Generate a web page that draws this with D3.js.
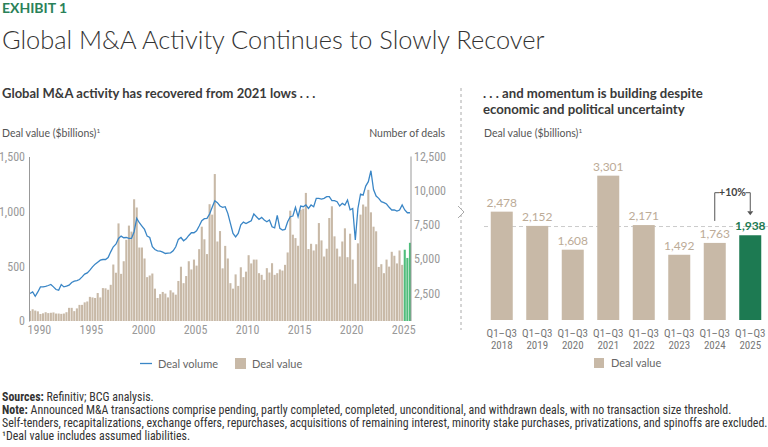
<!DOCTYPE html>
<html>
<head>
<meta charset="utf-8">
<script src="https://cdn.jsdelivr.net/npm/d3@7"></script>
<style>
  body { margin: 0; background: #fff; }
  svg text { font-family: Lato, "Open Sans", sans-serif; }
  svg text.narrow { font-family: "Liberation Sans Narrow", "Roboto Condensed", sans-serif; }
</style>
</head>
<body>
<svg id="chart" width="768" height="447"></svg>
<script>
// left panel: quarterly deal value ($B), 1989 Q1 .. 2025 Q3
var firstYear = 1989;
var dealValue = [
  92, 107, 95, 88,      64, 70, 80, 72,       75, 78, 68, 68,       65, 68, 80, 120,
  120, 90, 115, 147,    147, 170, 178, 220,   215, 210, 255, 215,   300, 298, 285, 330,
  515, 440, 890, 430,   545, 740, 870, 815,   1110, 1035, 670, 670, 570, 400, 415, 433,
  295, 210, 245, 265,   250, 215, 280, 260,   240, 365, 495, 345,   410, 545, 470, 560,
  505, 655, 860, 745,   610, 1065, 970, 1340, 725, 820, 480, 685,   570, 345, 295, 425,
  320, 490, 400, 450,   600, 525, 560, 560,   436, 421, 375, 482,   442, 527, 421, 436,
  470, 460, 512, 625,   1006, 787, 756, 686,  1015, 1024, 1168, 656, 704, 643, 700, 893,
  735, 588, 659, 939,   1046, 772, 660, 588,  725, 845, 582, 796,   560, 340, 708, 970,
  1062, 1043, 1196, 991, 860, 818, 493, 518, 436, 560, 496, 631,   595, 525, 643, 512,
  650, 575, 713
];
// number of deals, same quarters
var dealVolume = [
  2480, 2600, 2285, 2600,  2970, 2970, 3000, 3070,  3145, 2970, 2775, 2725,  3145, 2970, 3020, 3095,
  3290, 3385, 3435, 3510,  3700, 3900, 3995, 4190,  4435, 4630, 4775, 4920,  4970, 4970, 5115, 5530,
  5900, 6090, 6510, 6680,  6560, 6580, 6510, 6510,  7000, 7980, 7660, 7415,  7170, 6680, 6580, 5900,
  5700, 5605, 5580, 5510,  5410, 5435, 5460, 5605,  5900, 6440, 6580, 6340,  6485, 6730, 6925, 6925,
  7070, 7415, 7805, 7955,  7980, 8295, 8785, 9270,  9125, 8880, 8785, 8830,  8345, 7610, 6880, 6630,
  6880, 7500, 7700, 7600,  7700, 7800, 8300, 8100,  7900, 8050, 7855, 7730,  7855, 7365, 7290, 8200,
  7245, 7120, 7170, 7730,  8100, 8150, 8785, 8100,  8880, 8830, 8955, 8710,  8955, 8830, 9440, 9440,
  9390, 9440, 9560, 9560,  9270, 9270, 9195, 8880,  9075, 8955, 9320, 8600,  8700, 6400, 8700, 9750,
  9680, 10340, 10660, 11460, 10090, 9605, 9440, 9195, 9125, 9025, 8785, 8590, 8590, 8515, 8590, 8955,
  8590, 8390, 8390
];
var highlightYear = 2025;
var yearTicks = [1990, 1995, 2000, 2005, 2010, 2015, 2020, 2025];
var valueTicks = [0, 500, 1000, 1500];
var volumeTicks = [2500, 5000, 7500, 10000, 12500];

// right panel: Q1-Q3 deal value ($B)
var ytdYears = ['2018', '2019', '2020', '2021', '2022', '2023', '2024', '2025'];
var ytdValues = [2478, 2152, 1608, 3301, 2171, 1492, 1763, 1938];

var tan = '#c8b9a7', blue = '#3a86c6', green = '#1d7a52', lightGreen = '#4fbd7b';

var svg = d3.select('#chart');

// headings
svg.append('text').attr('x', 2).attr('y', 13)
  .attr('font-size', 14).attr('font-weight', 700).attr('fill', '#2a8159')
  .text('EXHIBIT 1');
svg.append('text').attr('x', 2).attr('y', 49)
  .attr('font-size', 25.4).attr('font-weight', 300).attr('fill', '#333')
  .text('Global M&A Activity Continues to Slowly Recover');
svg.append('text').attr('x', 2).attr('y', 98)
  .attr('font-size', 13).attr('font-weight', 700).attr('fill', '#3a3a3a')
  .text('Global M&A activity has recovered from 2021 lows . . .');
svg.append('text').attr('x', 483).attr('y', 98)
  .attr('font-size', 13.2).attr('font-weight', 700).attr('fill', '#3a3a3a')
  .text('. . . and momentum is building despite');
svg.append('text').attr('x', 483).attr('y', 114)
  .attr('font-size', 13.2).attr('font-weight', 700).attr('fill', '#3a3a3a')
  .text('economic and political uncertainty');

function axisTitle(x, y, txt, anchor) {
  var t = svg.append('text').attr('x', x).attr('y', y)
    .attr('font-size', 10.5).attr('fill', '#555').attr('text-anchor', anchor || 'start');
  t.append('tspan').text(txt);
  return t;
}
axisTitle(2, 137, 'Deal value ($billions)').append('tspan').attr('dy', -4).attr('font-size', 6.5).text('1');
axisTitle(445, 137, 'Number of deals', 'end');
axisTitle(484, 137, 'Deal value ($billions)').append('tspan').attr('dy', -4).attr('font-size', 6.5).text('1');

/************************ left panel ************************/
var x = d3.scaleBand().domain(d3.range(dealValue.length)).range([29, 411]).paddingInner(0.2);
var yL = d3.scaleLinear().domain([0, 1500]).range([321, 156.5]);
var yR = d3.scaleLinear().domain([0, 12500]).range([327.5, 156.5]);

function yearOf(i) { return firstYear + Math.floor(i / 4); }

svg.append('g').selectAll('rect').data(dealValue).join('rect')
  .attr('x', function(d, i) { return x(i); })
  .attr('width', x.bandwidth())
  .attr('y', function(d) { return yL(d); })
  .attr('height', function(d) { return yL(0) - yL(d); })
  .attr('fill', function(d, i) { return yearOf(i) === highlightYear ? lightGreen : tan; });

var line = d3.line()
  .x(function(d, i) { return x(i) + x.bandwidth() / 2; })
  .y(function(d) { return yR(d); });
svg.append('path').datum(dealVolume)
  .attr('d', line).attr('fill', 'none').attr('stroke', blue).attr('stroke-width', 1.3);

var gl = svg.append('g').attr('transform', 'translate(29,0)')
  .call(d3.axisLeft(yL).tickValues(valueTicks).tickSize(0).tickPadding(4).tickFormat(d3.format(',')));
gl.select('.domain').attr('stroke', '#999');
gl.selectAll('text').attr('class', 'narrow').attr('fill', '#999').attr('font-size', 12);

var gr = svg.append('g').attr('transform', 'translate(411,0)')
  .call(d3.axisRight(yR).tickValues(volumeTicks).tickSize(0).tickPadding(3).tickFormat(d3.format(',')));
gr.select('.domain').remove();
gr.selectAll('text').attr('class', 'narrow').attr('fill', '#999').attr('font-size', 12);
svg.append('line').attr('x1', 411).attr('x2', 411)
  .attr('y1', yL.range()[0]).attr('y2', yL.range()[1]).attr('stroke', '#999');

svg.append('g').selectAll('text').data(yearTicks).join('text')
  .attr('class', 'narrow')
  .attr('x', function(d) { return x((d - firstYear) * 4); })
  .attr('y', 334).attr('text-anchor', 'middle')
  .attr('font-size', 12).attr('fill', '#999')
  .text(function(d) { return d; });

// legend
svg.append('line').attr('x1', 140).attr('x2', 152).attr('y1', 363.5).attr('y2', 363.5)
  .attr('stroke', blue).attr('stroke-width', 1.3);
svg.append('text').attr('x', 158).attr('y', 367.5).attr('font-size', 11).attr('fill', '#666').text('Deal volume');
svg.append('rect').attr('x', 235).attr('y', 358).attr('width', 11).attr('height', 11).attr('fill', tan);
svg.append('text').attr('x', 252).attr('y', 367.5).attr('font-size', 11).attr('fill', '#666').text('Deal value');

// divider
svg.append('line').attr('x1', 461).attr('x2', 461).attr('y1', 88).attr('y2', 330)
  .attr('stroke', '#aaa').attr('stroke-dasharray', '3,3');
svg.append('polyline').attr('points', '458,206 464,212 458,218')
  .attr('fill', '#fff').attr('stroke', '#aaa');

/************************ right panel ************************/
var xb = d3.scaleBand().domain(ytdYears).range([484, 768]).paddingInner(0.38).paddingOuter(0.19);
var yb = d3.scaleLinear().domain([0, 3650]).range([320, 160.4]);
var last = ytdYears[ytdYears.length - 1];

var avg = d3.mean(ytdValues.slice(0, -1));
svg.append('line').attr('x1', 484).attr('x2', 768).attr('y1', yb(avg)).attr('y2', yb(avg))
  .attr('stroke', '#ccc').attr('stroke-dasharray', '4,3');

svg.append('g').selectAll('rect').data(ytdValues).join('rect')
  .attr('x', function(d, i) { return xb(ytdYears[i]); })
  .attr('width', xb.bandwidth())
  .attr('y', function(d) { return yb(d); })
  .attr('height', function(d) { return yb(0) - yb(d); })
  .attr('fill', function(d, i) { return ytdYears[i] === last ? green : tan; });

svg.append('g').selectAll('text').data(ytdValues).join('text')
  .attr('x', function(d, i) { return xb(ytdYears[i]) + xb.bandwidth() / 2; })
  .attr('y', function(d) { return yb(d) - 5; })
  .attr('text-anchor', 'middle').attr('font-size', 12)
  .attr('font-weight', function(d, i) { return ytdYears[i] === last ? 700 : 400; })
  .attr('fill', function(d, i) { return ytdYears[i] === last ? green : '#bcab97'; })
  .text(d3.format(','));

// category labels: two separate lines
var catX = function(d) { return xb(d) + xb.bandwidth() / 2; };
svg.append('g').selectAll('text').data(ytdYears).join('text')
  .attr('class', 'narrow').attr('x', catX).attr('y', 336.5)
  .attr('text-anchor', 'middle').attr('font-size', 11).attr('fill', '#777')
  .text('Q1–Q3');
svg.append('g').selectAll('text').data(ytdYears).join('text')
  .attr('class', 'narrow').attr('x', catX).attr('y', 349.2)
  .attr('text-anchor', 'middle').attr('font-size', 11).attr('fill', '#777')
  .text(function(d) { return d; });

// growth bracket
var prev = ytdYears[ytdYears.length - 2];
var xa = xb(prev) + xb.bandwidth() / 2, xc = xb(last) + xb.bandwidth() / 2;
var growth = ytdValues[ytdValues.length - 1] / ytdValues[ytdValues.length - 2] - 1;
var yTop = 192.7, xm = (xa + xc) / 2;
svg.append('path')
  .attr('d', 'M' + xa + ',' + (yb(ytdValues[6]) - 22) + 'V' + yTop + 'H' + (xm - 13))
  .attr('fill', 'none').attr('stroke', '#555');
svg.append('path')
  .attr('d', 'M' + (xm + 13) + ',' + yTop + 'H' + xc + 'V' + (yb(ytdValues[7]) - 24))
  .attr('fill', 'none').attr('stroke', '#555');
svg.append('path')
  .attr('d', 'M' + (xc - 3) + ',' + (yb(ytdValues[7]) - 24) + 'L' + (xc + 3) + ',' + (yb(ytdValues[7]) - 24) + 'L' + xc + ',' + (yb(ytdValues[7]) - 20) + 'Z')
  .attr('fill', '#555');
svg.append('text').attr('x', xm).attr('y', yTop + 3.5).attr('text-anchor', 'middle')
  .attr('font-size', 10.5).attr('font-weight', 700).attr('fill', '#444')
  .text(d3.format('+.0%')(growth));

// legend right
svg.append('rect').attr('x', 594).attr('y', 358).attr('width', 10).attr('height', 10).attr('fill', tan);
svg.append('text').attr('x', 611).attr('y', 367).attr('font-size', 11).attr('fill', '#666').text('Deal value');

/************************ footnotes ************************/
var notes = [
  ['Sources:', ' Refinitiv; BCG analysis.'],
  ['Note:', ' Announced M&A transactions comprise pending, partly completed, completed, unconditional, and withdrawn deals, with no transaction size threshold.'],
  ['', 'Self-tenders, recapitalizations, exchange offers, repurchases, acquisitions of remaining interest, minority stake purchases, privatizations, and spinoffs are excluded.'],
  ['', '\u00b9Deal value includes assumed liabilities.']
];
notes.forEach(function(n, i) {
  var t = svg.append('text').attr('class', 'narrow').attr('x', 2).attr('y', 401 + i * 13)
    .attr('font-size', 11.9).attr('fill', '#333');
  if (n[0]) t.append('tspan').attr('font-weight', 700).text(n[0]);
  t.append('tspan').text(n[1]);
});
</script>
</body>
</html>
